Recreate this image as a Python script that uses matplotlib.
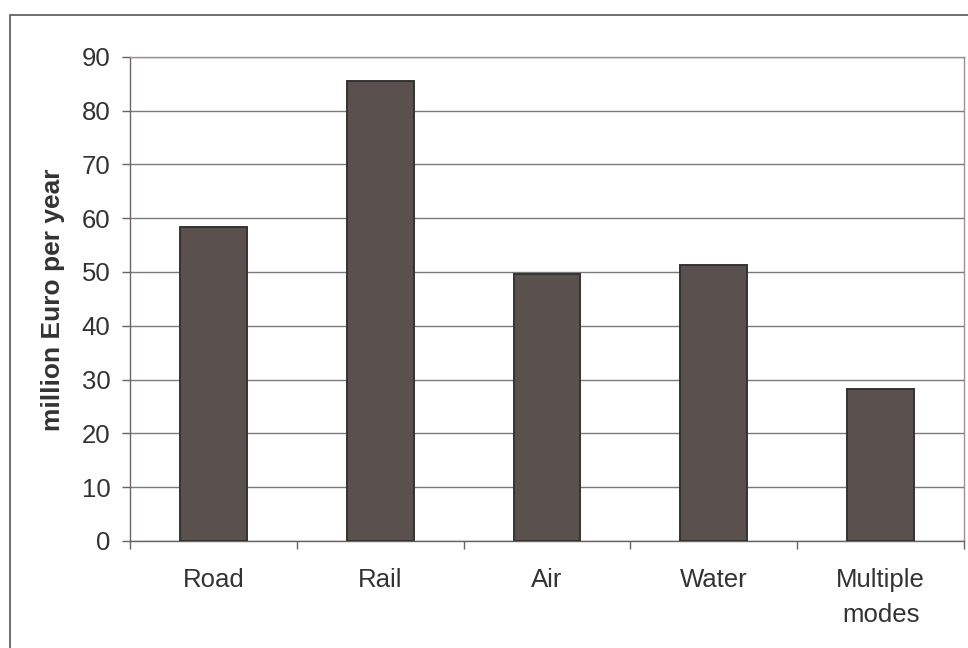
import matplotlib
matplotlib.use("Agg")
import matplotlib.pyplot as plt
from matplotlib.patches import Rectangle
import numpy as np

categories = ["Road", "Rail", "Air", "Water", "Multiple\nmodes"]
values = [58.4, 85.5, 49.6, 51.3, 28.3]
yticks = [0, 10, 20, 30, 40, 50, 60, 70, 80, 90]
ylabel = "million Euro per year"

plt.rcParams["font.family"] = ["Liberation Sans", "DejaVu Sans"]

W, H = 968, 648
fig = plt.figure(figsize=(W / 100, H / 100), dpi=100)
fig.patch.set_facecolor("white")

# outer chart frame (cut off at right and bottom edges)
fig.add_artist(Rectangle((10 / W, -0.2), 1.5, 1.2 - 15 / H,
                         transform=fig.transFigure, fill=False,
                         edgecolor="#555555", linewidth=1.2))

left, right, top, bottom = 130, 964, 56.7, 541
ax = fig.add_axes([left / W, (H - bottom) / H, (right - left) / W, (bottom - top) / H])

x = np.arange(len(categories))
ax.bar(x, values, width=0.4, color="#5a504d", edgecolor="#333333",
       linewidth=1.4, zorder=3)

ax.set_xlim(-0.5, len(categories) - 0.5)
ax.set_ylim(0, 90)
ax.set_yticks(yticks)
ax.yaxis.grid(True, color="#7a7a7a", linewidth=1.0, zorder=0)

ax.set_xticks(x)
ax.set_xticklabels(categories, fontsize=18.5, color="#333333", linespacing=1.55)
ax.set_xticks(np.arange(-0.5, len(categories)), minor=True)
ax.tick_params(axis="x", which="major", length=0, pad=19.5)
ax.tick_params(axis="x", which="minor", length=6, color="#6b6363", width=1.0)
ax.tick_params(axis="y", length=6, color="#6b6363", width=1.0, pad=8,
               labelsize=18.5, labelcolor="#333333")

for s in ["left", "bottom"]:
    ax.spines[s].set_color("#6b6363")
    ax.spines[s].set_linewidth(1.0)
for s in ["top", "right"]:
    ax.spines[s].set_color("#9c8f8f")
    ax.spines[s].set_linewidth(1.0)

fig.text(53 / W, 1 - 300 / H, ylabel, rotation=90, ha="center", va="center",
         fontsize=19, fontweight="bold", color="#333333")

fig.savefig("out.png", dpi=100)
